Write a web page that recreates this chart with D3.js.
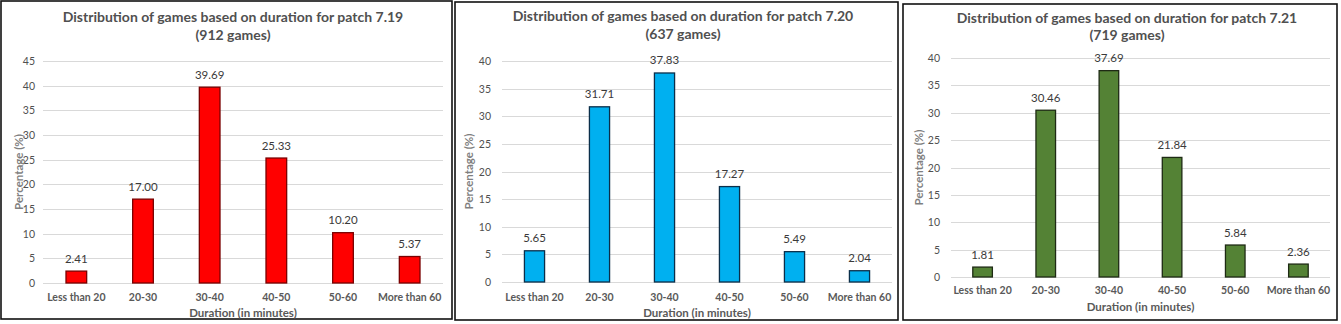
<!DOCTYPE html>
<html>
<head>
<meta charset="utf-8">
<script src="https://cdn.jsdelivr.net/npm/d3@7"></script>
<style>
  html, body { margin: 0; padding: 0; background: #fff; }
  svg { display: block; }
  text { font-family: Lato, "Open Sans", sans-serif; }
</style>
</head>
<body>
<svg id="chart" width="1341" height="324"></svg>
<script>
// ---- data ----
const categories = ["Less than 20", "20-30", "30-40", "40-50", "50-60", "More than 60"];
const patches = ["7.19", "7.20", "7.21"];
const gameCounts = [912, 637, 719];
const values719 = [2.41, 17.00, 39.69, 25.33, 10.20, 5.37];
const values720 = [5.65, 31.71, 37.83, 17.27, 5.49, 2.04];
const values721 = [1.81, 30.46, 37.69, 21.84, 5.84, 2.36];
const yMaxes = [45, 40, 40];
const tickStep = 5;
const xTitle = "Duration (in minutes)";
const yTitle = "Percentage (%)";
const barColors = ["#FF0000", "#00B0F0", "#548235"];
const barStrokes = ["#7A0000", "#0B2F4A", "#1E2A14"];

const seriesList = [values719, values720, values721];

// ---- layout (positions only) ----
const layouts = [
  { box: [1, 1, 452, 319], px: [43, 443], py: [283, 61], tcx: 233, t1: 16, t2: 34, ytx: 18, tickR: 35, catY: 297, xtY: 312 },
  { box: [455, 2, 898, 320], px: [502, 892], py: [282, 61], tcx: 683, t1: 15, t2: 33, ytx: 468, tickR: 491, catY: 297, xtY: 312 },
  { box: [903, 4, 1337, 320], px: [951, 1330], py: [277, 58], tcx: 1127, t1: 17, t2: 34, ytx: 918, tickR: 940, catY: 290, xtY: 306 }
];

const svg = d3.select("#chart");
svg.append("rect").attr("width", 1341).attr("height", 324).attr("fill", "#fff");

seriesList.forEach((vals, i) => {
  const L = layouts[i];
  const g = svg.append("g");

  // panel border
  g.append("rect")
    .attr("x", L.box[0]).attr("y", L.box[1])
    .attr("width", L.box[2] - L.box[0]).attr("height", L.box[3] - L.box[1])
    .attr("fill", "#fff").attr("stroke", "#111").attr("stroke-width", 1.6);

  const x = d3.scaleBand().domain(categories).range(L.px).paddingInner(0.69).paddingOuter(0.345);
  const y = d3.scaleLinear().domain([0, yMaxes[i]]).range(L.py);
  const ticks = d3.range(0, yMaxes[i] + 0.001, tickStep);

  // gridlines
  g.append("g").selectAll("line").data(ticks).join("line")
    .attr("x1", L.px[0]).attr("x2", L.px[1])
    .attr("y1", d => Math.round(y(d)) + 0.5).attr("y2", d => Math.round(y(d)) + 0.5)
    .attr("stroke", "#D9D9D9").attr("stroke-width", 1);

  // y tick labels
  g.append("g").selectAll("text").data(ticks).join("text")
    .attr("x", L.tickR).attr("y", d => y(d))
    .attr("text-anchor", "end").attr("dominant-baseline", "central")
    .attr("font-size", 10.5).attr("fill", "#505050")
    .text(d => d);

  // bars
  g.append("g").selectAll("rect").data(vals).join("rect")
    .attr("x", (d, j) => x(categories[j]))
    .attr("width", x.bandwidth())
    .attr("y", d => y(d))
    .attr("height", d => y(0) - y(d))
    .attr("fill", barColors[i])
    .attr("stroke", barStrokes[i]).attr("stroke-width", 1.3);

  // data labels
  g.append("g").selectAll("text").data(vals).join("text")
    .attr("x", (d, j) => x(categories[j]) + x.bandwidth() / 2)
    .attr("y", d => y(d) - 13)
    .attr("text-anchor", "middle").attr("dominant-baseline", "central")
    .attr("font-size", 11.5).attr("fill", "#3A3A3A")
    .text(d => d.toFixed(2));

  // category labels
  g.append("g").selectAll("text").data(categories).join("text")
    .attr("x", d => x(d) + x.bandwidth() / 2)
    .attr("y", L.catY)
    .attr("text-anchor", "middle").attr("dominant-baseline", "central")
    .attr("font-size", 10.5).attr("font-weight", "bold").attr("fill", "#595959")
    .text(d => d);

  // x title
  g.append("text")
    .attr("x", (L.px[0] + L.px[1]) / 2).attr("y", L.xtY)
    .attr("text-anchor", "middle").attr("dominant-baseline", "central")
    .attr("font-size", 11.5).attr("font-weight", "bold").attr("fill", "#595959")
    .text(xTitle);

  // y title
  g.append("text")
    .attr("transform", `translate(${L.ytx},${(L.py[0] + L.py[1]) / 2}) rotate(-90)`)
    .attr("text-anchor", "middle").attr("dominant-baseline", "central")
    .attr("font-size", 11.5).attr("font-weight", "bold").attr("fill", "#7F7F7F")
    .text(yTitle);

  // title
  g.append("text")
    .attr("x", L.tcx).attr("y", L.t1)
    .attr("text-anchor", "middle").attr("dominant-baseline", "central")
    .attr("font-size", 14).attr("font-weight", "bold").attr("fill", "#505050")
    .text(`Distribution of games based on duration for patch ${patches[i]}`);
  g.append("text")
    .attr("x", L.tcx).attr("y", L.t2)
    .attr("text-anchor", "middle").attr("dominant-baseline", "central")
    .attr("font-size", 14).attr("font-weight", "bold").attr("fill", "#505050")
    .text(`(${gameCounts[i]} games)`);
});
</script>
</body>
</html>
